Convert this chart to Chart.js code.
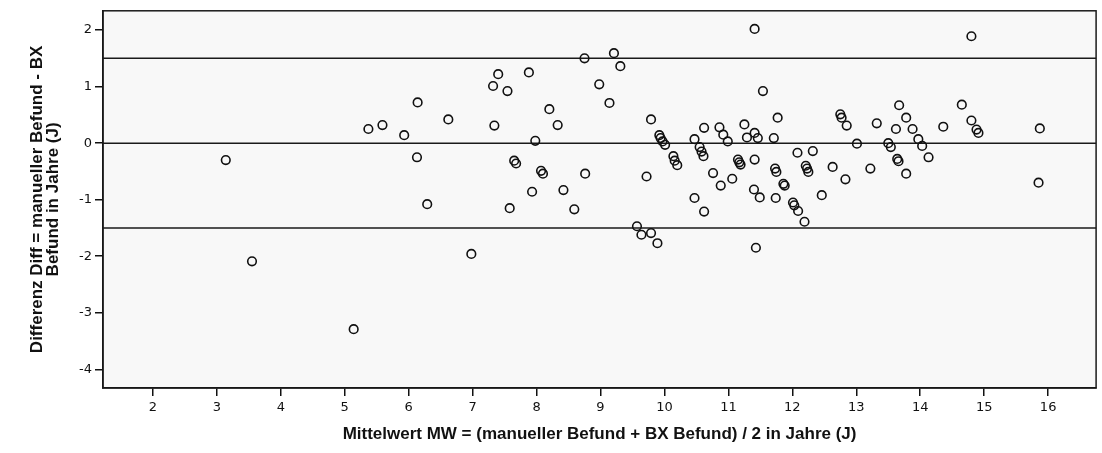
<!DOCTYPE html>
<html>
<head>
<meta charset="utf-8">
<script src="https://cdn.jsdelivr.net/npm/chart.js@4.4.1/dist/chart.umd.min.js"></script>
<style>
  html, body { margin: 0; padding: 0; background: #ffffff; }
  #wrap { width: 1102px; height: 453px; }
</style>
</head>
<body>
<div id="wrap"><canvas id="c" width="1102" height="453"></canvas></div>
<script>
// Mittelwert MW (x) and Differenz Diff (y)
const meanVals = [
  3.14, 3.55, 5.14, 5.37, 5.59, 5.93, 6.13, 6.14, 6.29, 6.62,
  6.98, 7.32, 7.34, 7.40, 7.545, 7.58, 7.65, 7.68, 7.88, 7.93,
  7.98, 8.07, 8.10, 8.20, 8.33, 8.42, 8.59, 8.75, 8.76, 8.98,
  9.14, 9.21, 9.31, 9.57, 9.64, 9.72, 9.79, 9.79, 9.89, 9.92,
  9.94, 9.97, 10.01, 10.14, 10.16, 10.20, 10.47, 10.47, 10.55, 10.58,
  10.61, 10.62, 10.62, 10.76, 10.86, 10.88, 10.92, 10.99, 11.06, 11.15,
  11.17, 11.19, 11.25, 11.29, 11.40, 11.41, 11.41, 11.41, 11.43, 11.46,
  11.49, 11.54, 11.71, 11.73, 11.74, 11.75, 11.77, 11.86, 11.88, 12.01,
  12.03, 12.08, 12.09, 12.19, 12.21, 12.23, 12.25, 12.32, 12.46, 12.63,
  12.75, 12.77, 12.83, 12.85, 13.01, 13.22, 13.32, 13.50, 13.54, 13.62,
  13.64, 13.66, 13.67, 13.78, 13.78, 13.88, 13.97, 14.03, 14.13, 14.36,
  14.65, 14.80, 14.80, 14.88, 14.91, 15.85, 15.87
];
const diffVals = [
  -0.30, -2.09, -3.29, 0.25, 0.32, 0.14, -0.25, 0.72, -1.08, 0.42,
  -1.96, 1.01, 0.31, 1.22, 0.92, -1.15, -0.31, -0.36, 1.25, -0.86,
  0.04, -0.49, -0.54, 0.60, 0.32, -0.83, -1.17, 1.50, -0.54, 1.04,
  0.71, 1.59, 1.36, -1.47, -1.62, -0.59, 0.42, -1.59, -1.77, 0.14,
  0.09, 0.03, -0.03, -0.23, -0.31, -0.39, 0.07, -0.97, -0.07, -0.15,
  -0.23, 0.27, -1.21, -0.53, 0.28, -0.75, 0.15, 0.03, -0.63, -0.29,
  -0.34, -0.38, 0.33, 0.10, -0.82, -0.29, 2.02, 0.18, -1.85, 0.09,
  -0.96, 0.92, 0.09, -0.45, -0.97, -0.51, 0.45, -0.72, -0.75, -1.05,
  -1.10, -0.17, -1.20, -1.39, -0.40, -0.45, -0.51, -0.14, -0.92, -0.42,
  0.51, 0.45, -0.64, 0.31, -0.01, -0.45, 0.35, 0.00, -0.07, 0.25,
  -0.28, -0.32, 0.67, 0.45, -0.54, 0.25, 0.07, -0.05, -0.25, 0.29,
  0.68, 1.89, 0.40, 0.24, 0.18, -0.70, 0.26
];
const xTicks = [2, 3, 4, 5, 6, 7, 8, 9, 10, 11, 12, 13, 14, 15, 16];
const yTicks = [-4, -3, -2, -1, 0, 1, 2];
const refLines = [1.5, 0, -1.5];
const xTitle = 'Mittelwert MW = (manueller Befund + BX Befund) / 2 in Jahre (J)';
const yTitle = ['Differenz Diff = manueller Befund - BX', 'Befund in Jahre (J)'];

const points = meanVals.map((x, i) => ({ x: x, y: diffVals[i] }));

const framePlugin = {
  id: 'frame',
  beforeDraw(chart) {
    const { ctx, chartArea: a } = chart;
    ctx.save();
    ctx.fillStyle = '#f8f8f8';
    ctx.fillRect(a.left, a.top, a.right - a.left, a.bottom - a.top);
    ctx.restore();
  },
  beforeDatasetsDraw(chart) {
    const { ctx, chartArea: a, scales } = chart;
    ctx.save();
    ctx.strokeStyle = '#1a1a1a';
    ctx.lineWidth = 1.5;
    refLines.forEach(v => {
      const y = scales.y.getPixelForValue(v);
      ctx.beginPath();
      ctx.moveTo(a.left, y);
      ctx.lineTo(a.right, y);
      ctx.stroke();
    });
    ctx.strokeRect(a.left, a.top, a.right - a.left, a.bottom - a.top);
    ctx.restore();
  }
};

new Chart(document.getElementById('c'), {
  type: 'scatter',
  data: {
    datasets: [{
      data: points,
      pointStyle: 'circle',
      pointRadius: 4.3,
      pointBorderWidth: 1.6,
      pointBorderColor: '#111111',
      pointBackgroundColor: 'rgba(0,0,0,0)'
    }]
  },
  plugins: [framePlugin],
  options: {
    responsive: false,
    devicePixelRatio: 1,
    animation: false,
    layout: { padding: { top: 10, right: 2, left: 0, bottom: 0 } },
    plugins: { legend: { display: false }, tooltip: { enabled: false } },
    scales: {
      x: {
        type: 'linear',
        min: 1.22,
        max: 16.75,
        afterBuildTicks: s => { s.ticks = xTicks.map(v => ({ value: v })); },
        afterFit: s => { s.height = 65; },
        grid: { drawOnChartArea: false, drawTicks: true, tickLength: 8, color: '#111', lineWidth: 1.5 },
        border: { display: true, color: '#111', width: 1.5 },
        ticks: { color: '#111', font: { family: 'DejaVu Sans', size: 13 }, padding: 4, maxRotation: 0, autoSkip: false },
        title: { display: true, text: xTitle, color: '#111', font: { family: 'Liberation Sans', size: 17, weight: 'bold', lineHeight: 0.95 }, padding: { top: 0, bottom: 11 } }
      },
      y: {
        type: 'linear',
        min: -4.33,
        max: 2.34,
        afterBuildTicks: s => { s.ticks = yTicks.map(v => ({ value: v })); },
        afterFit: s => { s.width = 103; },
        grid: { drawOnChartArea: false, drawTicks: true, tickLength: 8, color: '#111', lineWidth: 1.5 },
        border: { display: true, color: '#111', width: 1.5 },
        ticks: { color: '#111', font: { family: 'DejaVu Sans', size: 13 }, padding: 3 },
        title: { display: true, text: yTitle, color: '#111', font: { family: 'Liberation Sans', size: 17, weight: 'bold', lineHeight: 0.95 }, padding: { top: 29, bottom: 0 } }
      }
    }
  }
});
</script>
</body>
</html>
